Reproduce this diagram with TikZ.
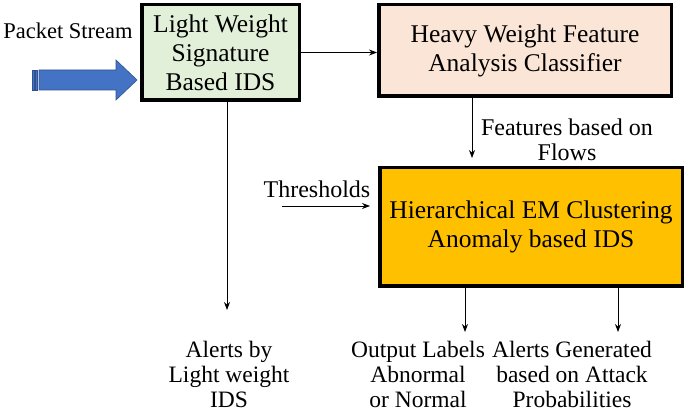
\documentclass[tikz,border=0pt]{standalone}
\usepackage{fontspec}
\setmainfont{Liberation Serif}
\usetikzlibrary{arrows.meta}
\definecolor{lgreen}{HTML}{E2F0D9}
\definecolor{peach}{HTML}{FBE5D6}
\definecolor{gold}{HTML}{FFC000}
\definecolor{bluearr}{HTML}{4472C4}
\definecolor{bluedark}{HTML}{2F528F}
\begin{document}
\begin{tikzpicture}[x=1pt,y=-1pt,
  font=\fontsize{24}{28}\selectfont,
  box/.style={draw, line width=3.5pt, align=center, inner sep=0pt, font=\fontsize{25.5}{29}\selectfont},
  conn/.style={-{Stealth[length=8pt,width=6pt]}, line width=0.8pt},
  lbl/.style={align=center, inner sep=0pt, font=\fontsize{24}{25}\selectfont},
  outl/.style={align=center, inner sep=0pt, font=\fontsize{23.5}{25}\selectfont}]
\useasboundingbox (0,0) rectangle (685,411);
% boxes
\node[box, fill=lgreen, minimum width=157.5pt, minimum height=95.5pt] (b1) at (220.5,52.5) {Light Weight\\Signature\\Based IDS};
\node[box, fill=peach, minimum width=292.5pt, minimum height=91.5pt] (b2) at (525,50.5) {Heavy Weight Feature\\Analysis Classifier};
\node[box, fill=gold, minimum width=302.5pt, minimum height=118.5pt] (b3) at (531,227) {Hierarchical EM Clustering\\Anomaly based IDS};
% labels
\node[lbl, font=\fontsize{22.5}{25}\selectfont] (ps) at (68,31) {Packet Stream};
\node[lbl] (feat) at (567,140) {Features based on\\Flows};
\node[lbl] (thr) at (317,189) {Thresholds};
\node[outl] (al1) at (229,374) {Alerts by\\Light weight\\IDS};
\node[outl] (al2) at (418,374) {Output Labels\\Abnormal\\or Normal};
\node[outl] (al3) at (572,374) {Alerts Generated\\based on Attack\\Probabilities};
% blue striped arrow
\fill[bluearr, draw=bluedark, line width=0.6pt] (39,70) -- (116,70) -- (116,60) -- (137,80) -- (116,100) -- (116,90) -- (39,90) -- cycle;
\fill[bluearr, draw=bluedark, line width=0.6pt] (32,70) rectangle (34,90);
\fill[bluearr, draw=bluedark, line width=0.6pt] (35.5,70) rectangle (37.5,90);
% connector end points
\coordinate (e1) at (227,310);
\coordinate (e2) at (472,158);
\coordinate (t0) at (282,206);
\coordinate (t1) at (370,206);
\coordinate (e3) at (465,332);
\coordinate (e4) at (618,332);
% connectors
\draw[conn] (b1.east) -- (b2.west |- b1.east);
\draw[conn] (b1.south -| e1) -- (e1);
\draw[conn] (b2.south -| e2) -- (e2);
\draw[conn] (t0) -- (t1);
\draw[conn] (b3.south -| e3) -- (e3);
\draw[conn] (b3.south -| e4) -- (e4);
\end{tikzpicture}
\end{document}
